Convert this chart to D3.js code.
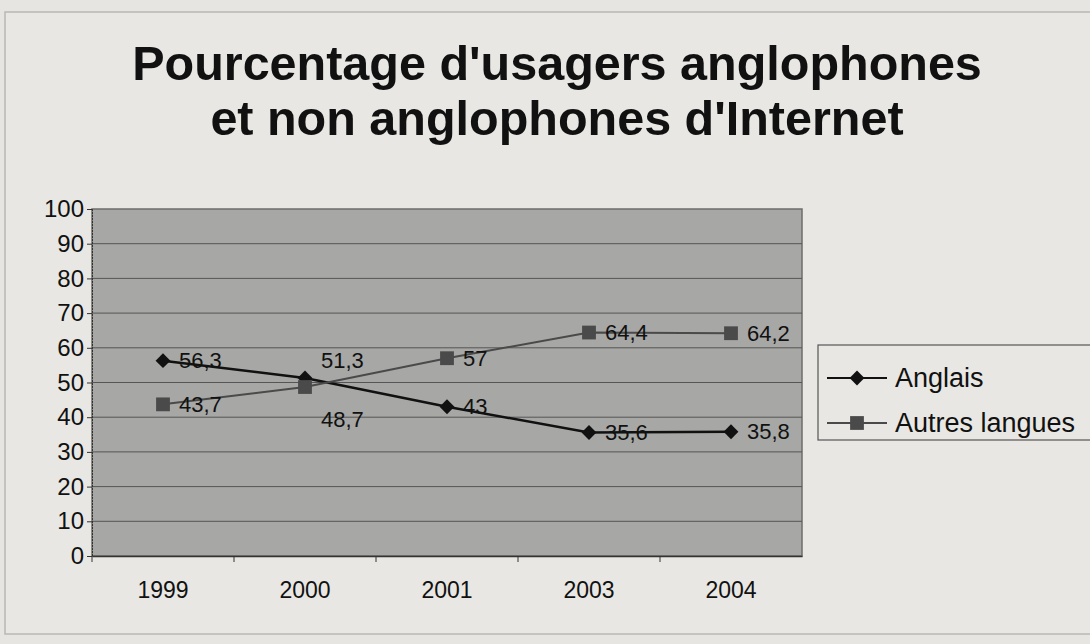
<!DOCTYPE html>
<html>
<head>
<meta charset="utf-8">
<script src="https://cdn.jsdelivr.net/npm/d3@7"></script>
<style>
  body { margin: 0; background: #e6e5e1; }
  svg { display: block; }
  text { font-family: "Liberation Sans", Arial, sans-serif; }
</style>
</head>
<body>
<div id="chart"></div>
<script>
// data
const years = ["1999", "2000", "2001", "2003", "2004"];
const anglais = [56.3, 51.3, 43, 35.6, 35.8];
const autres = [43.7, 48.7, 57, 64.4, 64.2];
const yTicks = [0, 10, 20, 30, 40, 50, 60, 70, 80, 90, 100];
const titleLines = ["Pourcentage d'usagers anglophones", "et non anglophones d'Internet"];

const width = 1090, height = 644;
const plot = { left: 92, right: 802, top: 209, bottom: 556 };

const svg = d3.select("#chart").append("svg")
  .attr("width", width)
  .attr("height", height);

// page / chart area
svg.append("rect").attr("width", width).attr("height", height).attr("fill", "#e6e5e1");
svg.append("rect")
  .attr("x", 5).attr("y", 12).attr("width", width + 20).attr("height", 622)
  .attr("fill", "#e8e7e3").attr("stroke", "#b9b8b4").attr("stroke-width", 1.5);

// title
svg.append("g").selectAll("text")
  .data(titleLines)
  .enter().append("text")
    .attr("x", 557)
    .attr("y", (d, i) => 80 + i * 55)
    .attr("text-anchor", "middle")
    .attr("font-size", 48.5)
    .attr("font-weight", "bold")
    .attr("fill", "#111")
    .text(d => d);

const x = d3.scaleBand().domain(years).range([plot.left, plot.right]);
const y = d3.scaleLinear().domain([0, 100]).range([plot.bottom, plot.top]);

// plot area
svg.append("rect")
  .attr("x", plot.left).attr("y", plot.top)
  .attr("width", plot.right - plot.left).attr("height", plot.bottom - plot.top)
  .attr("fill", "#a7a7a5")
  .attr("stroke", "#6d6d6b").attr("stroke-width", 1.5);

// gridlines
svg.append("g")
  .attr("stroke", "#555").attr("stroke-width", 1)
  .selectAll("line")
  .data(yTicks.filter(d => d > 0 && d < 100))
  .enter().append("line")
    .attr("x1", plot.left).attr("x2", plot.right)
    .attr("y1", d => y(d)).attr("y2", d => y(d));

// y axis
const yAxis = svg.append("g")
  .attr("transform", `translate(${plot.left},0)`)
  .call(d3.axisLeft(y).tickValues(yTicks).tickSize(5).tickPadding(3));
yAxis.select(".domain").attr("stroke", "#333").attr("stroke-dasharray", "2,1");
yAxis.selectAll(".tick line").attr("stroke", "#333");
yAxis.selectAll("text").attr("font-size", 24).attr("fill", "#111")
  .attr("font-family", "Liberation Sans, Arial, sans-serif");

// x axis
const xAxis = svg.append("g")
  .attr("transform", `translate(0,${plot.bottom})`)
  .call(d3.axisBottom(x).tickSize(0).tickPadding(26));
xAxis.select(".domain").attr("stroke", "#333").attr("stroke-width", 1.5);
xAxis.selectAll("text").attr("font-size", 23).attr("fill", "#111")
  .attr("font-family", "Liberation Sans, Arial, sans-serif");
svg.append("g").attr("stroke", "#333")
  .selectAll("line")
  .data(years)
  .enter().append("line")
    .attr("x1", d => x(d)).attr("x2", d => x(d))
    .attr("y1", plot.bottom).attr("y2", plot.bottom + 6);

const cx = d => x(d) + x.bandwidth() / 2;
const line = d3.line().x((d, i) => cx(years[i])).y(d => y(d));

const series = [
  { name: "Anglais", values: anglais, color: "#111", marker: d3.symbolSquare, size: 110, rotate: 45 },
  { name: "Autres langues", values: autres, color: "#4a4a4a", marker: d3.symbolSquare, size: 190, rotate: 0 }
];

series.forEach((s, si) => {
  svg.append("path")
    .datum(s.values)
    .attr("fill", "none")
    .attr("stroke", s.color)
    .attr("stroke-width", si === 0 ? 2.5 : 2)
    .attr("d", line);

  svg.append("g").selectAll("path")
    .data(s.values)
    .enter().append("path")
      .attr("transform", (d, i) => `translate(${cx(years[i])},${y(d)}) rotate(${s.rotate})`)
      .attr("d", d3.symbol().type(s.marker).size(s.size))
      .attr("fill", s.color);

  // value labels, comma decimals; 2000 labels split above/below the crossing
  svg.append("g").selectAll("text")
    .data(s.values)
    .enter().append("text")
      .attr("x", (d, i) => cx(years[i]) + (i === 1 ? 16 : 16))
      .attr("y", (d, i) => y(d) + (i === 1 ? (si === 0 ? -18 : 32) : 0))
      .attr("dy", "0.35em")
      .attr("font-size", 22)
      .attr("fill", "#111")
      .text(d => String(d).replace(".", ","));
});

// legend
const legend = svg.append("g").attr("transform", "translate(818,345)");
legend.append("rect")
  .attr("width", 300).attr("height", 95)
  .attr("fill", "#e8e7e3").attr("stroke", "#555").attr("stroke-width", 1.2);
series.forEach((s, i) => {
  const ly = 33 + i * 45;
  legend.append("line")
    .attr("x1", 9).attr("x2", 69).attr("y1", ly).attr("y2", ly)
    .attr("stroke", s.color).attr("stroke-width", 2);
  legend.append("path")
    .attr("transform", `translate(39,${ly}) rotate(${s.rotate})`)
    .attr("d", d3.symbol().type(s.marker).size(s.size))
    .attr("fill", s.color);
  legend.append("text")
    .attr("x", 77).attr("y", ly).attr("dy", "0.35em")
    .attr("font-size", 27).attr("fill", "#111")
    .text(s.name);
});
</script>
</body>
</html>
